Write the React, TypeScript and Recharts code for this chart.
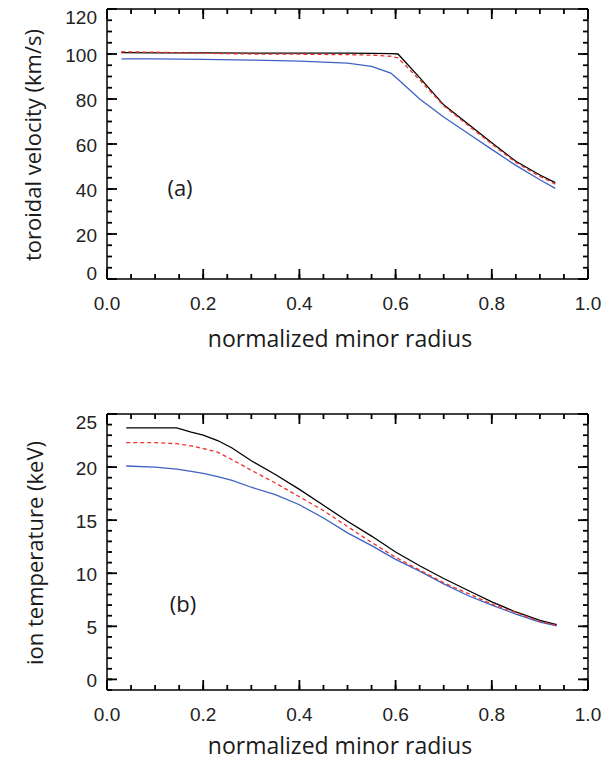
import { LineChart, Line, XAxis, YAxis } from "recharts";

// (a) toroidal velocity vs normalized minor radius
const radiusA = [0.03, 0.1, 0.2, 0.3, 0.4, 0.45, 0.5, 0.55, 0.59, 0.605, 0.65, 0.7, 0.75, 0.8, 0.85, 0.9, 0.932];
const velBlack = [100.6, 100.5, 100.5, 100.4, 100.4, 100.4, 100.4, 100.3, 100.2, 100.0, 89.5, 77.4, 69.0, 60.6, 52.3, 46.2, 42.8];
const velRed = [101.0, 100.8, 100.3, 100.0, 99.9, 99.8, 99.7, 99.5, 99.0, 98.3, 88.5, 77.0, 68.4, 60.0, 51.8, 45.6, 42.2];
const velBlue = [97.8, 97.8, 97.6, 97.3, 96.8, 96.4, 95.9, 94.5, 91.5, 88.8, 80.0, 72.0, 64.8, 57.6, 50.5, 44.1, 40.3];

// (b) ion temperature vs normalized minor radius
const radiusB = [0.04, 0.1, 0.145, 0.175, 0.2, 0.23, 0.26, 0.3, 0.35, 0.4, 0.45, 0.5, 0.55, 0.6, 0.65, 0.7, 0.75, 0.8, 0.85, 0.9, 0.935];
const tempBlack = [23.7, 23.7, 23.7, 23.3, 23.0, 22.5, 21.8, 20.6, 19.3, 17.9, 16.4, 14.9, 13.5, 12.0, 10.7, 9.5, 8.4, 7.3, 6.35, 5.55, 5.15];
const tempRed = [22.3, 22.3, 22.2, 22.0, 21.75, 21.4, 20.7, 19.7, 18.5, 17.2, 15.9, 14.4, 12.9, 11.5, 10.3, 9.1, 8.1, 7.1, 6.3, 5.45, 5.1];
const tempBlue = [20.1, 20.0, 19.8, 19.6, 19.4, 19.1, 18.75, 18.1, 17.4, 16.45, 15.2, 13.8, 12.6, 11.3, 10.2, 9.0, 7.9, 7.0, 6.15, 5.4, 5.05];

// ticks (IDL style: inward, on all four sides, minor + major)
const xMajor = [0, 0.2, 0.4, 0.6, 0.8, 1.0];
const xTicks = [0, 0.05, 0.1, 0.15, 0.2, 0.25, 0.3, 0.35, 0.4, 0.45, 0.5, 0.55, 0.6, 0.65, 0.7, 0.75, 0.8, 0.85, 0.9, 0.95, 1.0];
const yMajorA = [0, 20, 40, 60, 80, 100, 120];
const yTicksA = [0, 5, 10, 15, 20, 25, 30, 35, 40, 45, 50, 55, 60, 65, 70, 75, 80, 85, 90, 95, 100, 105, 110, 115, 120];
const yMajorB = [0, 5, 10, 15, 20, 25];
const yTicksB = [-1, 0, 1, 2, 3, 4, 5, 6, 7, 8, 9, 10, 11, 12, 13, 14, 15, 16, 17, 18, 19, 20, 21, 22, 23, 24, 25];

const TICK_FONT = "'Liberation Sans', Arial, sans-serif";
const TITLE_FONT = "'Open Sans', 'Noto Sans', sans-serif";
const AXIS = { stroke: "#000", strokeWidth: 1.5 };
const TICKLINE = { stroke: "#000", strokeWidth: 1.8 };
const MINOR = 5; // built-in inward tick (negative tickSize), tickMargin brings x/y back to the axis
const MAJOR = 10;

const near = (a: number, b: number) => Math.abs(a - b) < 1e-6;

// longer mark for major ticks + label; x/y arrive at the axis line
function makeTick(side: string, majors: number[], domain: number[], labelled: boolean, fmt: (v: number) => string) {
  return (props: any) => {
    const { x, y, payload } = props;
    const v = payload.value as number;
    const major = majors.some((m) => near(m, v));
    if (!major) return <g />;
    let x2 = x, y2 = y;
    if (side === "bottom") y2 = y - MAJOR;
    if (side === "top") y2 = y + MAJOR;
    if (side === "left") x2 = x + MAJOR;
    if (side === "right") x2 = x - MAJOR;
    let lx = x, ly = y + 31, anchor = "middle";
    if (side === "left") {
      lx = x - 10;
      // extreme labels are nudged inside like in the original
      ly = y + (near(v, domain[1]) ? 15 : near(v, domain[0]) ? 1 : 8);
      anchor = "end";
    }
    return (
      <g>
        <path d={`M${x},${y}L${x2},${y2}`} stroke="#000" strokeWidth={1.8} />
        {labelled && (
          <text x={lx} y={ly} textAnchor={anchor} fontSize={19} fontFamily={TICK_FONT} fill="#222">{fmt(v)}</text>
        )}
      </g>
    );
  };
}

interface PanelProps {
  width: number;
  height: number;
  margin: { top: number; right: number; bottom: number; left: number };
  xs: number[];
  black: number[];
  red: number[];
  blue: number[];
  yDomain: number[];
  yMajor: number[];
  yTicks: number[];
}

function Panel({ width, height, margin, xs, black, red, blue, yDomain, yMajor, yTicks }: PanelProps) {
  const data = xs.map((r, i) => ({ r, black: black[i], red: red[i], blue: blue[i] }));
  const fx = (v: number) => v.toFixed(1);
  const fy = (v: number) => String(v);
  const common = { interval: 0 as const, tickSize: -MINOR, tickMargin: MINOR, tickLine: TICKLINE, axisLine: AXIS, allowDataOverflow: true };
  return (
    <LineChart width={width} height={height} data={data} margin={margin}>
      <XAxis xAxisId="b" dataKey="r" type="number" domain={[0, 1]} ticks={xTicks} height={1} {...common}
        tick={makeTick("bottom", xMajor, [0, 1], true, fx)} />
      <XAxis xAxisId="t" dataKey="r" orientation="top" type="number" domain={[0, 1]} ticks={xTicks} height={1} {...common}
        tick={makeTick("top", xMajor, [0, 1], false, fx)} />
      <YAxis yAxisId="l" type="number" domain={yDomain} ticks={yTicks} width={1} {...common}
        tick={makeTick("left", yMajor, yDomain, true, fy)} />
      <YAxis yAxisId="r" orientation="right" type="number" domain={yDomain} ticks={yTicks} width={1} {...common}
        tick={makeTick("right", yMajor, yDomain, false, fy)} />
      {/* same scales on both axis pairs; blue is bound to the top/right pair so those axes get a domain */}
      <Line xAxisId="t" yAxisId="r" type="linear" dataKey="blue" stroke="#3d62c4" strokeWidth={1.3} dot={false} isAnimationActive={false} />
      <Line xAxisId="b" yAxisId="l" type="linear" dataKey="black" stroke="#000" strokeWidth={1.3} dot={false} isAnimationActive={false} />
      <Line xAxisId="b" yAxisId="l" type="linear" dataKey="red" stroke="#f0302a" strokeWidth={1.3} strokeDasharray="4 3" dot={false} isAnimationActive={false} />
    </LineChart>
  );
}

const abs = (left: number, top: number) => ({ position: "absolute" as const, left, top });

export default function App() {
  const title = { fontFamily: TITLE_FONT, fontSize: 22, color: "#1a1a1a", whiteSpace: "nowrap" as const };
  return (
    <div style={{ position: "absolute", left: 0, top: 0, width: 616, height: 761, background: "#fff" }}>
      <div style={abs(0, 0)}>
        <Panel width={616} height={380} margin={{ top: 8, right: 27, bottom: 100, left: 106 }}
          xs={radiusA} black={velBlack} red={velRed} blue={velBlue}
          yDomain={[0, 120]} yMajor={yMajorA} yTicks={yTicksA} />
      </div>
      <div style={abs(0, 380)}>
        <Panel width={616} height={381} margin={{ top: 33, right: 27, bottom: 70, left: 106 }}
          xs={radiusB} black={tempBlack} red={tempRed} blue={tempBlue}
          yDomain={[-1, 25]} yMajor={yMajorB} yTicks={yTicksB} />
      </div>

      {/* axis titles */}
      <div style={{ ...abs(340, 338), ...title, fontSize: 23, transform: "translate(-50%, -50%)" }}>normalized minor radius</div>
      <div style={{ ...abs(340, 745), ...title, fontSize: 23, transform: "translate(-50%, -50%)" }}>normalized minor radius</div>
      <div style={{ ...abs(32, 145), ...title, transform: "translate(-50%, -50%) rotate(-90deg)" }}>toroidal velocity (km/s)</div>
      <div style={{ ...abs(34, 553), ...title, transform: "translate(-50%, -50%) rotate(-90deg)" }}>ion temperature (keV)</div>

      {/* panel labels */}
      <div style={{ ...abs(180, 187), ...title, transform: "translate(-50%, -50%)" }}>(a)</div>
      <div style={{ ...abs(183, 603), ...title, transform: "translate(-50%, -50%)" }}>(b)</div>
    </div>
  );
}
